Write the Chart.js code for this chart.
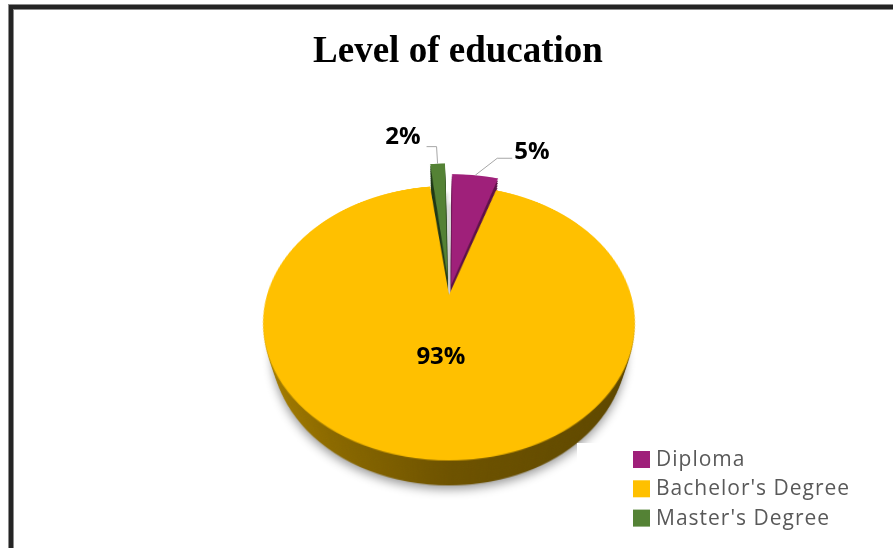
<!DOCTYPE html>
<html>
<head>
<meta charset="utf-8">
<title>Level of education</title>
<script src="https://cdn.jsdelivr.net/npm/chart.js@4.4.1/dist/chart.umd.min.js"></script>
<style>
  html, body { margin: 0; padding: 0; background: #ffffff; }
  #page { position: relative; width: 893px; height: 548px; overflow: hidden; background: #ffffff; }
  /* the tilted disc: a perspective stage holding a stack of flat pie layers */
  #scene { position: absolute; left: 199px; top: 45px; width: 500px; height: 500px;
           perspective: 614px; perspective-origin: 250px 250px; }
  #disc  { position: absolute; left: 0; top: 0; width: 500px; height: 500px;
           transform-style: preserve-3d; transform-origin: 250px 250px; transform: rotateX(43.7deg); }
  #disc canvas { position: absolute; left: 0; top: 0; width: 500px; height: 500px; }
  #overlay { position: absolute; left: 0; top: 0; width: 893px; height: 548px; z-index: 10; }
</style>
</head>
<body>
<div id="page">
  <div id="scene"><div id="disc"></div></div>
  <canvas id="overlay" width="893" height="548"></canvas>
</div>
<script>
// ---- data ----
const categories   = ['Diploma', "Bachelor's Degree", "Master's Degree"];
const shares       = [5, 93, 2];
const shareLabels  = ['5%', '93%', '2%'];

// ---- styling ----
const chartTitle  = 'Level of education';
const faceColors  = ['#9F207A', '#FFC000', '#548235'];
const wallColors  = ['#5E1147', null, '#1F3816'];   // null -> shaded gold gradient
const slicePull   = [57, 0, 100];                    // exploded slices (Chart.js arc offset)

const RADIUS = 182;            // pie radius in the disc plane
const TILT   = 43.7 * Math.PI / 180;
const PERSP  = 614;
const DEPTH  = 42.5;           // thickness of the disc
const WALL_LAYERS = 12;
const CX = 449, CY = 295;      // page position of the disc centre

// same projection as the CSS perspective + rotateX applied to #disc
function project(x, y, z) {
  const Y = Math.cos(TILT) * y - Math.sin(TILT) * z;
  const Z = Math.sin(TILT) * y + Math.cos(TILT) * z;
  const k = PERSP / (PERSP - Z);
  return { x: CX + x * k, y: CY + Y * k };
}

// point along an arc's mid-angle, following ArcElement's own offset handling
function arcPoint(arc, frac) {
  const mid = (arc.startAngle + arc.endAngle) / 2;
  const shift = (arc.options.offset || 0) / 4;
  const fix = 1 - Math.sin(Math.min(Math.PI, arc.circumference || 0));
  const r = (arc.outerRadius + shift * fix) * frac;
  return { x: Math.cos(mid) * (shift + r), y: Math.sin(mid) * (shift + r) };
}

const labelStyle = [
  { frac: 1,    elbow: [22, -17], run: 15,  text: [2, -6],  align: 'left'  },
  { frac: 0.43, inside: true },
  { frac: 1,    elbow: [-1, -17], run: -10, text: [-6, -9], align: 'right' }
];

function goldWall(ctx) {
  const g = ctx.createLinearGradient(250 - RADIUS, 0, 250 + RADIUS, 0);
  g.addColorStop(0.00, '#AB8100');
  g.addColorStop(0.22, '#8C6A00');
  g.addColorStop(0.50, '#6E5300');
  g.addColorStop(1.00, '#5C4600');
  return g;
}

const disc = document.getElementById('disc');

function makeLayer(z, isTop, withShadow) {
  const cv = document.createElement('canvas');
  cv.width = 500; cv.height = 500;
  cv.style.transform = 'translateZ(' + z + 'px)';
  disc.appendChild(cv);
  const plugins = [];
  if (withShadow) {
    plugins.push({
      id: 'discShadow',
      beforeDatasetsDraw(chart) {
        const c = chart.ctx;
        c.save();
        c.shadowColor = 'rgba(0,0,0,0.4)';
        c.shadowBlur = 18;
        c.shadowOffsetY = 7;
      },
      afterDatasetsDraw(chart) { chart.ctx.restore(); }
    });
  }
  if (isTop) plugins.push({ id: 'flatAnnotations', afterDraw: drawOverlay });
  return new Chart(cv, {
    type: 'pie',
    data: {
      labels: categories,
      datasets: [{
        data: shares,
        radius: RADIUS,
        offset: slicePull,
        borderWidth: 0,
        backgroundColor: isTop ? faceColors : (c) => wallColors[c.dataIndex] || goldWall(c.chart.ctx)
      }]
    },
    options: {
      responsive: false,
      animation: false,
      devicePixelRatio: 2,
      events: [],
      layout: { padding: 0 },
      plugins: { legend: { display: false }, title: { display: false }, tooltip: { enabled: false } }
    },
    plugins
  });
}

function drawOverlay(chart) {
  const ov = document.getElementById('overlay');
  const c = ov.getContext('2d');
  c.clearRect(0, 0, ov.width, ov.height);

  // frame
  c.fillStyle = '#8C8C8C';
  c.fillRect(8, 4, 885, 6);
  c.fillRect(8, 4, 6, 544);
  c.fillStyle = '#242424';
  c.fillRect(9, 5, 884, 4);
  c.fillRect(9, 5, 4, 543);

  // title
  c.fillStyle = '#000000';
  c.font = 'bold 37px "Liberation Serif", "Times New Roman", serif';
  c.textAlign = 'center';
  c.textBaseline = 'alphabetic';
  c.fillText(chartTitle, 458, 62);

  // data labels
  const meta = chart.getDatasetMeta(0);
  c.font = 'bold 24px "Open Sans", sans-serif';
  meta.data.forEach((arc, i) => {
    const st = labelStyle[i];
    const p = arcPoint(arc, st.frac);
    const s = project(p.x, p.y, 0);
    if (st.inside) {
      c.fillStyle = '#000000';
      c.textAlign = 'center';
      c.textBaseline = 'middle';
      c.fillText(shareLabels[i], s.x, s.y);
      return;
    }
    const ex = s.x + st.elbow[0], ey = s.y + st.elbow[1];
    const rx = ex + st.run;
    c.strokeStyle = '#A6A6A6';
    c.lineWidth = 1;
    c.beginPath();
    c.moveTo(s.x, s.y);
    c.lineTo(ex, ey);
    c.lineTo(rx, ey);
    c.stroke();
    c.fillStyle = '#000000';
    c.textAlign = st.align;
    c.textBaseline = 'middle';
    c.fillText(shareLabels[i], rx + st.text[0], ey + st.text[1]);
  });

  // legend box
  c.fillStyle = '#FFFFFF';
  c.fillRect(577, 443, 316, 105);
  c.font = '21px "Open Sans", sans-serif';
  c.letterSpacing = '1px';
  c.textAlign = 'left';
  c.textBaseline = 'alphabetic';
  categories.forEach((name, i) => {
    const y = 451 + i * 29.3;
    c.fillStyle = faceColors[i];
    c.fillRect(633, y, 17, 17);
    c.fillStyle = '#595959';
    c.fillText(name, 656, y + 15);
  });
  c.letterSpacing = '0px';
}

// wall layers, deepest first, then the top face
for (let i = WALL_LAYERS; i >= 1; i--) {
  makeLayer(-DEPTH * i / WALL_LAYERS, false, i === WALL_LAYERS);
}
makeLayer(0, true, false);
</script>
</body>
</html>
